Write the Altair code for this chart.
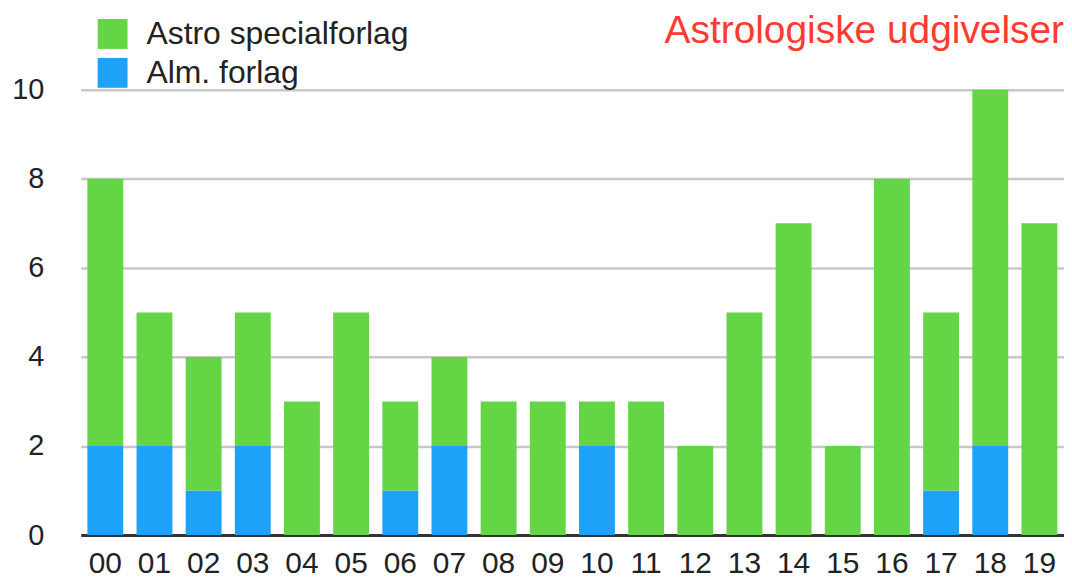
import altair as alt
import pandas as pd

years = ["00", "01", "02", "03", "04", "05", "06", "07", "08", "09",
         "10", "11", "12", "13", "14", "15", "16", "17", "18", "19"]
alm = [2, 2, 1, 2, 0, 0, 1, 2, 0, 0, 2, 0, 0, 0, 0, 0, 0, 1, 2, 0]
astro = [6, 3, 3, 3, 3, 5, 2, 2, 3, 3, 1, 3, 2, 5, 7, 2, 8, 4, 8, 7]
series = ["Astro specialforlag", "Alm. forlag"]
colors = ["#64D544", "#1DA1F9"]
title_text = "Astrologiske udgivelser"

rows = []
for i, y in enumerate(years):
    rows.append({"year": y, "series": series[1], "value": alm[i], "ord": 0})
    rows.append({"year": y, "series": series[0], "value": astro[i], "ord": 1})
df = pd.DataFrame(rows)

FONT = "Liberation Sans"

chart = alt.Chart(df).mark_bar().encode(
    x=alt.X("year:N", sort=years,
            scale=alt.Scale(paddingInner=0.27, paddingOuter=0.135),
            axis=alt.Axis(title=None, labelAngle=0, ticks=False, grid=False,
                          domain=True, domainColor="#333333", domainWidth=3,
                          labelFontSize=30, labelColor="#222222", labelPadding=14,
                          labelFont=FONT)),
    y=alt.Y("value:Q", stack="zero",
            scale=alt.Scale(domain=[0, 10], nice=False),
            axis=alt.Axis(title=None, values=[0, 2, 4, 6, 8, 10], ticks=False,
                          domain=False, grid=True, gridColor="#c8c8c8", gridWidth=2.5,
                          labelFontSize=29, labelColor="#222222", labelPadding=37,
                          labelFont=FONT)),
    color=alt.Color("series:N",
                    scale=alt.Scale(domain=series, range=colors),
                    legend=alt.Legend(title=None, orient="none", legendX=16, legendY=-72,
                                      symbolType="square", symbolSize=900,
                                      symbolStrokeWidth=0, symbolOpacity=1,
                                      labelFontSize=32, labelFont=FONT, labelLimit=0,
                                      labelColor="#222222", labelOffset=18,
                                      rowPadding=7)),
    order=alt.Order("ord:Q", sort="ascending"),
).properties(
    width=987,
    height=447,
    title=alt.TitleParams(title_text, anchor="end", frame="group", color="#FF3B30",
                          fontSize=39, font=FONT, fontWeight="normal", offset=0,
                          dy=64, baseline="alphabetic"),
    autosize=alt.AutoSizeParams(type="none"),
    padding={"left": 73, "top": 81, "right": 0, "bottom": 46},
).configure_view(stroke=None)

chart.save("out.html", embed_options={"renderer": "svg", "actions": False})
